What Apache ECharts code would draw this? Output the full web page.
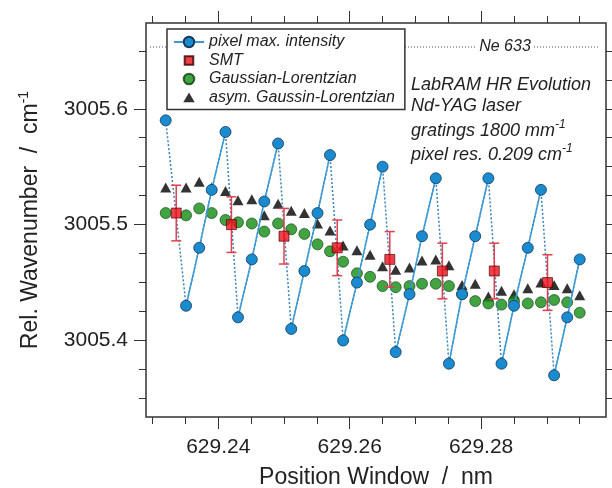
<!DOCTYPE html>
<html>
<head>
<meta charset="utf-8">
<script src="https://cdn.jsdelivr.net/npm/echarts@6/dist/echarts.min.js"></script>
<style>
  html, body { margin: 0; padding: 0; background: #fff; }
  #chart { width: 612px; height: 488px; }
</style>
</head>
<body>
<div id="chart"></div>
<script>
// Pixel positions of the spectrometer window (nm)
const position = [629.2320, 629.2351, 629.2371, 629.2390, 629.2411, 629.2430, 629.2451, 629.2470,
                  629.2491, 629.2511, 629.2531, 629.2551, 629.2570, 629.2590, 629.2611, 629.2631,
                  629.2650, 629.2670, 629.2691, 629.2710, 629.2731, 629.2751, 629.2771, 629.2791,
                  629.2811, 629.2831, 629.2850, 629.2871, 629.2891, 629.2911, 629.2931, 629.2950];

// Peak position from the pixel of maximum intensity (cm^-1)
const pixelMax = [3005.59, 3005.43, 3005.48, 3005.53, 3005.58, 3005.42, 3005.47, 3005.52,
                  3005.57, 3005.41, 3005.46, 3005.51, 3005.56, 3005.40, 3005.45, 3005.50,
                  3005.55, 3005.39, 3005.44, 3005.49, 3005.54, 3005.38, 3005.44, 3005.49,
                  3005.54, 3005.38, 3005.43, 3005.48, 3005.53, 3005.37, 3005.42, 3005.47];

// Peak position from a Gaussian-Lorentzian fit
const gaussLor = [3005.510, 3005.508, 3005.514, 3005.510, 3005.504, 3005.502, 3005.501, 3005.494,
                  3005.501, 3005.496, 3005.492, 3005.483, 3005.477, 3005.468, 3005.458, 3005.455,
                  3005.447, 3005.446, 3005.447, 3005.449, 3005.449, 3005.447, 3005.440, 3005.434,
                  3005.432, 3005.431, 3005.434, 3005.432, 3005.433, 3005.435, 3005.433, 3005.424];

// Peak position from an asymmetric Gaussian-Lorentzian fit
const asymGaussLor = [3005.532, 3005.532, 3005.537, 3005.532, 3005.529, 3005.521, 3005.522, 3005.508,
                      3005.518, 3005.512, 3005.510, 3005.501, 3005.495, 3005.482, 3005.478, 3005.474,
                      3005.464, 3005.461, 3005.463, 3005.469, 3005.470, 3005.465, 3005.448, 3005.449,
                      3005.438, 3005.443, 3005.440, 3005.445, 3005.450, 3005.448, 3005.445, 3005.439];

// SMT results with their uncertainties
const smtPosition = [629.2336, 629.2420, 629.2500, 629.2581, 629.2661, 629.2741, 629.2820, 629.2901];
const smtValue    = [3005.51, 3005.50, 3005.49, 3005.48, 3005.47, 3005.46, 3005.46, 3005.45];
const smtError    = [0.024, 0.024, 0.024, 0.024, 0.024, 0.024, 0.024, 0.024];

// Axis ranges and tick values
const xRange = [629.229, 629.299];
const yRange = [3005.334, 3005.674];
const xMajorTicks = [629.24, 629.26, 629.28];
const xMinorTicks = [629.23, 629.235, 629.245, 629.25, 629.255, 629.265, 629.27, 629.275,
                     629.285, 629.29, 629.295];
const yMajorTicks = [3005.4, 3005.5, 3005.6];
const yMinorTicks = [3005.35, 3005.375, 3005.425, 3005.45, 3005.475, 3005.525, 3005.55,
                     3005.575, 3005.625, 3005.65];

const FONT = "'Liberation Sans', Arial, Helvetica, sans-serif";
const INK = '#222';
const FRAME = '#333';

// Legend icons padded inside a 13x13 box so they keep a marker-like size
const ICON_SQUARE   = 'path://M0,0L0,0M2.2,2.2H10.8V10.8H2.2ZM13,13L13,13';
const ICON_CIRCLE   = 'path://M0,0L0,0M1.2,6.5A5.3,5.3,0,1,1,11.8,6.5A5.3,5.3,0,1,1,1.2,6.5ZM13,13L13,13';
const ICON_TRIANGLE = 'path://M0,0L0,0M0.8,11.2L6.5,1.6L12.2,11.2ZM13,13L13,13';

const pairs = (xs, ys) => xs.map((x, i) => [x, ys[i]]);

// Rising runs of the pixel series are drawn solid; a break is inserted at each drop
const risingRuns = [];
pixelMax.forEach((v, i) => {
  if (i > 0 && v < pixelMax[i - 1]) risingRuns.push([position[i], '-']);
  risingRuns.push([position[i], v]);
});

function makeAxis(kind, pos, values, tickLen, withLabels, extra) {
  const range = kind === 'x' ? xRange : yRange;
  return Object.assign({
    type: 'value',
    position: pos,
    min: range[0],
    max: range[1],
    axisLine: { show: false, onZero: false },
    splitLine: { show: false },
    axisTick: {
      show: true, inside: false, length: tickLen, customValues: values,
      lineStyle: { color: FRAME, width: 1 }
    },
    axisLabel: withLabels ? {
      show: true, customValues: values,
      fontFamily: FONT, fontSize: 21, color: INK,
      margin: kind === 'x' ? 20 : 18,
      formatter: v => kind === 'x' ? v.toFixed(2) : v.toFixed(1)
    } : { show: false }
  }, extra || {});
}

const chart = echarts.init(document.getElementById('chart'), null, { renderer: 'canvas' });

chart.setOption({
  animation: false,
  backgroundColor: '#fff',
  grid: {
    left: 146, right: 6, top: 23, bottom: 71,
    outerBoundsMode: 'none',
    containLabel: false,
    show: true, borderColor: FRAME, borderWidth: 1.5, backgroundColor: 'transparent'
  },
  xAxis: [
    makeAxis('x', 'bottom', xMajorTicks, 12, true, {
      name: 'Position Window  /  nm',
      nameLocation: 'middle',
      nameGap: 48,
      nameTextStyle: { fontFamily: FONT, fontSize: 23, color: INK, lineHeight: 26 }
    }),
    makeAxis('x', 'bottom', xMinorTicks, 7, false),
    makeAxis('x', 'top', xMajorTicks, 12, false),
    makeAxis('x', 'top', xMinorTicks, 7, false)
  ],
  yAxis: [
    makeAxis('y', 'left', yMajorTicks, 12, true, {
      name: '{t|Rel. Wavenumber  /  cm}{s|-1}',
      nameLocation: 'middle',
      nameRotate: 90,
      nameGap: 101,
      nameTextStyle: {
        fontFamily: FONT, fontSize: 23, color: INK,
        rich: {
          t: { fontFamily: FONT, fontSize: 23, color: INK, lineHeight: 28 },
          s: { fontFamily: FONT, fontSize: 14, color: INK, lineHeight: 14, verticalAlign: 'top' }
        }
      }
    }),
    makeAxis('y', 'left', yMinorTicks, 7, false),
    makeAxis('y', 'right', yMajorTicks, 12, false),
    makeAxis('y', 'right', yMinorTicks, 7, false)
  ],
  legend: {
    data: [
      { name: 'pixel max. intensity' },
      { name: 'SMT', icon: ICON_SQUARE },
      { name: 'Gaussian-Lorentzian', icon: ICON_CIRCLE },
      { name: 'asym. Gaussin-Lorentzian', icon: ICON_TRIANGLE }
    ],
    orient: 'vertical',
    left: 167,
    top: 29,
    padding: [5, 10, 4, 6],
    itemGap: 2.5,
    itemWidth: 30,
    itemHeight: 13,
    symbolKeepAspect: true,
    backgroundColor: '#fff',
    borderColor: FRAME,
    borderWidth: 1.5,
    borderRadius: 0,
    selectedMode: false,
    textStyle: { fontFamily: FONT, fontSize: 16, fontStyle: 'italic', color: INK, lineHeight: 16 }
  },
  graphic: [
    {
      type: 'line', z: 1,
      shape: { x1: 150, y1: 47, x2: 598, y2: 47 },
      style: { stroke: '#555', lineWidth: 1, lineDash: [1, 2] }
    },
    {
      type: 'text', z: 2, x: 505, y: 47,
      style: {
        text: 'Ne 633', fontFamily: FONT, fontSize: 16, fontStyle: 'italic', fill: INK,
        align: 'center', verticalAlign: 'middle', backgroundColor: '#fff', padding: [1, 3]
      }
    },
    {
      type: 'text', z: 2, x: 411, y: 85,
      style: {
        text: 'LabRAM HR Evolution', fontFamily: FONT, fontSize: 18, fontStyle: 'italic', fill: INK,
        verticalAlign: 'middle'
      }
    },
    {
      type: 'text', z: 2, x: 411, y: 106,
      style: {
        text: 'Nd-YAG laser', fontFamily: FONT, fontSize: 18, fontStyle: 'italic', fill: INK,
        verticalAlign: 'middle'
      }
    },
    {
      type: 'text', z: 2, x: 411, y: 131,
      style: {
        text: '{t|gratings 1800 mm}{s|-1}', verticalAlign: 'middle',
        rich: {
          t: { fontFamily: FONT, fontSize: 18, fontStyle: 'italic', fill: INK, lineHeight: 24 },
          s: { fontFamily: FONT, fontSize: 12, fontStyle: 'italic', fill: INK, lineHeight: 12, verticalAlign: 'top' }
        }
      }
    },
    {
      type: 'text', z: 2, x: 411, y: 155,
      style: {
        text: '{t|pixel res. 0.209 cm}{s|-1}', verticalAlign: 'middle',
        rich: {
          t: { fontFamily: FONT, fontSize: 18, fontStyle: 'italic', fill: INK, lineHeight: 24 },
          s: { fontFamily: FONT, fontSize: 12, fontStyle: 'italic', fill: INK, lineHeight: 12, verticalAlign: 'top' }
        }
      }
    }
  ],
  series: [
    {
      name: 'asym. Gaussin-Lorentzian',
      type: 'scatter',
      data: pairs(position, asymGaussLor),
      symbol: 'triangle',
      symbolSize: [11, 10],
      itemStyle: { color: '#000' },
      z: 2
    },
    {
      name: 'Gaussian-Lorentzian',
      type: 'scatter',
      data: pairs(position, gaussLor),
      symbol: 'circle',
      symbolSize: 11,
      itemStyle: { color: '#138c13', borderColor: '#0d3d0d', borderWidth: 0.8 },
      z: 3
    },
    {
      name: 'pixel drops',
      type: 'line',
      data: pairs(position, pixelMax),
      showSymbol: false,
      symbol: 'none',
      lineStyle: { color: '#3a82b8', width: 1.5, type: [2, 2] },
      silent: true,
      z: 4
    },
    {
      name: 'pixel max. intensity',
      type: 'line',
      data: risingRuns,
      connectNulls: false,
      symbol: 'circle',
      symbolSize: 11,
      showAllSymbol: true,
      lineStyle: { color: '#3a9ad6', width: 1.5 },
      itemStyle: { color: '#1b8bd0', borderColor: '#123a5c', borderWidth: 0.8 },
      z: 5
    },
    {
      name: 'SMT error',
      type: 'custom',
      data: smtPosition.map((x, i) => [x, smtValue[i] - smtError[i], smtValue[i] + smtError[i]]),
      encode: { x: 0, y: [1, 2] },
      renderItem: function (params, api) {
        const lo = api.coord([api.value(0), api.value(1)]);
        const hi = api.coord([api.value(0), api.value(2)]);
        const cap = 5;
        const style = { stroke: '#e0404c', lineWidth: 1.5, fill: null };
        return {
          type: 'group',
          children: [
            { type: 'line', shape: { x1: lo[0], y1: lo[1], x2: hi[0], y2: hi[1] }, style: style },
            { type: 'line', shape: { x1: lo[0] - cap, y1: lo[1], x2: lo[0] + cap, y2: lo[1] }, style: style },
            { type: 'line', shape: { x1: hi[0] - cap, y1: hi[1], x2: hi[0] + cap, y2: hi[1] }, style: style }
          ]
        };
      },
      silent: true,
      z: 6
    },
    {
      name: 'SMT',
      type: 'scatter',
      data: pairs(smtPosition, smtValue),
      symbol: 'rect',
      symbolSize: 10,
      itemStyle: { color: '#e8101a', borderColor: '#3a0000', borderWidth: 0.8 },
      z: 7
    }
  ]
});
</script>
</body>
</html>
